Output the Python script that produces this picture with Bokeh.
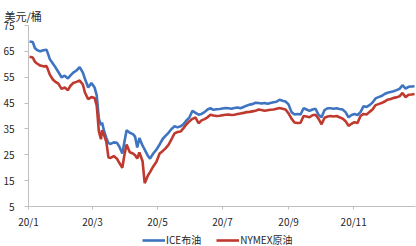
from bokeh.plotting import figure
from bokeh.models import Range1d, FixedTicker, Legend, LegendItem, ColumnDataSource
from bokeh.layouts import column
from bokeh.embed import file_html
from bokeh.resources import INLINE

# day offset from 2020-01-01
days = [1, 4, 6, 8, 11, 14, 17, 20, 23, 25, 28, 31, 34, 37, 39, 42, 45, 48, 51, 53,
        56, 59, 62, 64, 66, 68, 69, 71, 73, 75, 77, 80, 83, 85, 88, 90, 92, 95, 98, 100,
        102, 104, 107, 109, 112, 114, 117, 120, 123, 126, 128.5, 131.3, 134.1, 137.0, 139.8,
        142.6, 145.4, 148.2, 151.0, 153.8, 156.7, 159.5, 162.3, 165.1, 167.9, 170.7, 173.5,
        176.4, 179.2, 182.0, 184.8, 187.6, 190.4, 193.2, 196.1, 198.9, 201.7, 204.5, 207.3,
        210.1, 212.9, 215.8, 218.6, 221.4, 224.2, 227.0, 229.8, 232.6, 235.5, 238.3, 241.1,
        243.9, 246.7, 249.5, 252.3, 255.2, 258.0, 260.8, 263.6, 266.4, 269.2, 272.0, 274.9,
        277.7, 280.5, 283.3, 286.1, 288.9, 291.7, 294.6, 297.4, 300.2, 303.0, 305.8, 308.6,
        311.4, 314.3, 317.1, 319.9, 322.7, 325.5, 328.3, 331.1, 334.0, 336.8, 339.6, 342.4,
        345.2, 348.0, 350.8, 353.7, 356.5, 359.3, 362.1]

ice_brent = [68.8, 68.6, 66.3, 65.5, 65.0, 65.4, 65.6, 62.0, 60.2, 59.0, 57.0, 55.0, 55.6, 54.5,
             55.5, 56.8, 57.6, 58.9, 56.8, 54.3, 51.0, 52.8, 51.0, 48.0, 39.0, 36.5, 37.5, 34.0,
             31.5, 29.5, 29.2, 29.8, 29.6, 28.3, 25.5, 30.0, 34.5, 33.5, 33.0, 32.0, 27.8, 31.5,
             28.5, 27.0, 24.6, 23.5, 25.5, 27.0, 29.0, 31.2, 32.3, 33.5, 35.0, 36.0, 35.6, 36.0,
             36.8, 38.3, 39.5, 42.0, 41.2, 40.5, 40.8, 41.5, 42.5, 43.0, 42.4, 42.6, 42.7, 42.9,
             43.1, 43.0, 42.8, 43.1, 43.3, 43.0, 43.5, 44.0, 44.4, 44.6, 45.1, 45.0, 44.8, 45.0,
             44.7, 45.0, 45.3, 45.5, 46.3, 45.9, 45.6, 44.5, 41.5, 40.6, 40.8, 40.6, 43.0, 42.5,
             42.0, 42.5, 42.8, 40.5, 39.5, 42.3, 43.0, 43.0, 42.8, 43.0, 42.7, 42.5, 41.5, 39.5,
             40.4, 40.8, 40.4, 41.5, 43.8, 43.5, 44.2, 45.2, 46.8, 47.3, 47.7, 48.5, 49.0, 49.3,
             49.6, 50.0, 50.5, 51.9, 50.6, 51.3, 51.4, 51.5]

nymex_wti = [62.9, 62.6, 61.0, 60.3, 59.5, 59.2, 59.3, 56.0, 54.0, 53.3, 52.5, 50.5, 51.0, 50.0,
             51.5, 52.8, 53.2, 53.7, 52.2, 49.0, 46.5, 47.3, 47.0, 44.0, 34.0, 31.0, 34.5, 32.5,
             30.0, 24.0, 23.8, 24.5, 23.5, 22.0, 20.0, 25.0, 29.0, 26.0, 25.5, 24.8, 23.5, 25.9,
             22.5, 14.0, 17.0, 18.3, 20.5, 22.3, 25.5, 26.5, 27.5, 28.8, 31.0, 33.3, 33.8, 34.0,
             35.3, 36.8, 38.0, 38.9, 39.4, 37.2, 38.3, 38.8, 39.5, 40.5, 40.2, 40.0, 40.1, 40.3,
             40.5, 40.6, 40.4, 40.5, 40.8, 41.0, 41.2, 41.5, 41.6, 41.8, 42.0, 42.5, 42.3, 42.0,
             42.2, 42.4, 42.5, 42.8, 43.1, 42.8, 42.5, 41.0, 39.0, 37.5, 37.3, 37.4, 40.0, 39.8,
             39.5, 40.3, 40.5, 39.0, 36.8, 39.3, 39.8, 40.0, 39.8, 40.0, 39.5, 39.0, 38.0, 36.2,
             37.0, 37.6, 37.3, 40.0, 40.8, 40.6, 41.6, 42.5, 44.2, 44.6, 45.0, 45.6, 46.3, 46.6,
             47.0, 47.2, 47.6, 48.9, 47.3, 48.2, 48.3, 48.5]

tick_days = [0, 60, 121, 182, 244, 305]
tick_labels = ["20/1", "20/3", "20/5", "20/7", "20/9", "20/11"]
y_ticks = [5, 15, 25, 35, 45, 55, 65, 75]
series_names = ["ICE布油", "NYMEX原油"]

FONT = "Noto Sans CJK SC"
BLUE = "#3F74C0"
RED = "#C0392F"
TXT = "#262626"

src = ColumnDataSource(dict(d=days, b=ice_brent, w=nymex_wti))

p = figure(frame_width=387, frame_height=181, output_backend="svg", toolbar_location=None,
           x_range=Range1d(0, 363), y_range=Range1d(5, 75),
           min_border_left=0, min_border_right=3, min_border_top=25, min_border_bottom=0)
p.outline_line_color = None
p.grid.visible = False
p.background_fill_color = "white"
p.border_fill_color = "white"

r1 = p.line("d", "b", source=src, line_color=BLUE, line_width=2.6)
r2 = p.line("d", "w", source=src, line_color=RED, line_width=2.6)

# title
p.title.text = "美元/桶"
p.title.text_font = FONT
p.title.text_font_size = "11px"
p.title.text_font_style = "normal"
p.title.text_color = TXT
p.title.align = "left"
p.title.offset = -24
p.title.standoff = 4

# y axis
ya = p.yaxis[0]
ya.ticker = FixedTicker(ticks=y_ticks)
ya.major_label_text_font = FONT
ya.major_label_text_font_size = "10px"
ya.major_label_text_color = TXT
ya.axis_line_color = "#BFBFBF"
ya.major_tick_line_color = "#BFBFBF"
ya.major_tick_out = 4
ya.major_tick_in = 0
ya.minor_tick_line_color = None
ya.major_label_standoff = 10

# x axis
xa = p.xaxis[0]
xa.ticker = FixedTicker(ticks=tick_days)
xa.major_label_overrides = {t: l for t, l in zip(tick_days, tick_labels)}
xa.major_label_text_font = FONT
xa.major_label_text_font_size = "10px"
xa.major_label_text_color = TXT
xa.axis_line_color = "#BFBFBF"
xa.major_tick_line_color = "#BFBFBF"
xa.major_tick_out = 3
xa.major_tick_in = 0
xa.minor_tick_line_color = None
xa.major_label_standoff = 4

# legend strip below the chart (same series, view range kept off the data)
lf = figure(width=416, height=16, output_backend="svg", toolbar_location=None,
            x_range=Range1d(-20, -10), y_range=Range1d(0, 1),
            x_axis_location=None, y_axis_location=None,
            min_border_left=0, min_border_right=0, min_border_top=0, min_border_bottom=0)
lf.grid.visible = False
lf.outline_line_color = None
lf.border_fill_color = "white"
l1 = lf.line("d", "b", source=src, line_color=BLUE, line_width=2.6)
l2 = lf.line("d", "w", source=src, line_color=RED, line_width=2.6)

legend = Legend(items=[LegendItem(label=series_names[0], renderers=[l1]),
                       LegendItem(label=series_names[1], renderers=[l2])],
                orientation="horizontal", location=(114, 0))
legend.label_text_font = FONT
legend.label_text_font_size = "10px"
legend.label_text_color = TXT
legend.glyph_width = 23
legend.glyph_height = 8
legend.label_standoff = 1
legend.spacing = 15
legend.padding = 0
legend.margin = 0
legend.label_height = 8
legend.border_line_alpha = 0
legend.background_fill_alpha = 0
lf.add_layout(legend)

layout = column(p, lf, spacing=0)
open("out.html", "w").write(file_html(layout, INLINE))
